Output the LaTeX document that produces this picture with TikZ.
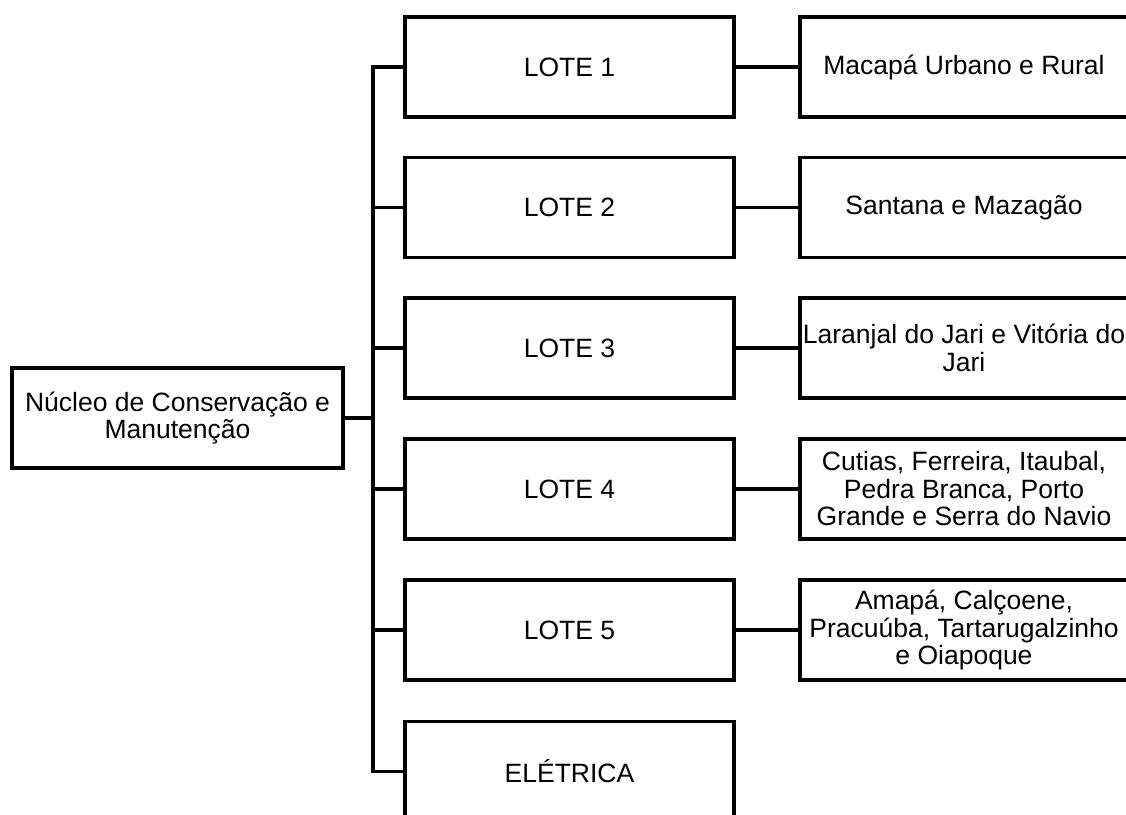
\documentclass[tikz,border=0pt]{standalone}
\usepackage{fontspec}
\setmainfont{Liberation Sans}
\begin{document}
\begin{tikzpicture}[x=1pt,y=-1pt,
  box/.style={draw=black, line width=3.2pt, fill=white, align=center,
    inner sep=0pt, font=\fontsize{26.5}{27.5}\selectfont},
  lotebox/.style={box, minimum width=329pt, minimum height=100pt},
  placebox/.style={box, minimum width=328pt, minimum height=100pt},
  link/.style={draw=black, line width=3.2pt}]
\useasboundingbox (0,0) rectangle (1126,814);
\clip (0,0) rectangle (1126,814);
\fill[white] (0,0) rectangle (1126,814);

% root
\node[box, minimum width=331pt, minimum height=100pt] (nucleo) at (177.5,418)
  {Núcleo de Conservação e\\Manutenção};

% lots
\node[lotebox] (lote1) at (569.5,67) {LOTE 1};
\node[lotebox] (lote2) at (569.5,207.5) {LOTE 2};
\node[lotebox] (lote3) at (569.5,348) {LOTE 3};
\node[lotebox] (lote4) at (569.5,489) {LOTE 4};
\node[lotebox] (lote5) at (569.5,630) {LOTE 5};
\node[lotebox] (eletrica) at (569.5,771.5) {ELÉTRICA};

% municipalities
\node[placebox] (m1) at (964,67) {Macapá Urbano e Rural};
\node[placebox] (m2) at (964,207.5) {Santana e Mazagão};
\node[placebox] (m3) at (964,348) {Laranjal do Jari e Vitória do\\Jari};
\node[placebox] (m4) at (964,489) {Cutias, Ferreira, Itaubal,\\Pedra Branca, Porto\\Grande e Serra do Navio};
\node[placebox] (m5) at (964,630) {Amapá, Calçoene,\\Pracuúba, Tartarugalzinho\\e Oiapoque};

% trunk
\coordinate (trunk) at (373,0);
\draw[link] (lote1.west) -- (lote1.west -| trunk) -- (eletrica.west -| trunk) -- (eletrica.west);
\draw[link] (nucleo.east) -- (nucleo.east -| trunk);
\foreach \n in {lote2,lote3,lote4,lote5}
  \draw[link] (\n.west) -- (\n.west -| trunk);

% lot to municipality links
\foreach \a/\b in {lote1/m1,lote2/m2,lote3/m3,lote4/m4,lote5/m5}
  \draw[link] (\a.east) -- (\b.west);
\end{tikzpicture}
\end{document}
